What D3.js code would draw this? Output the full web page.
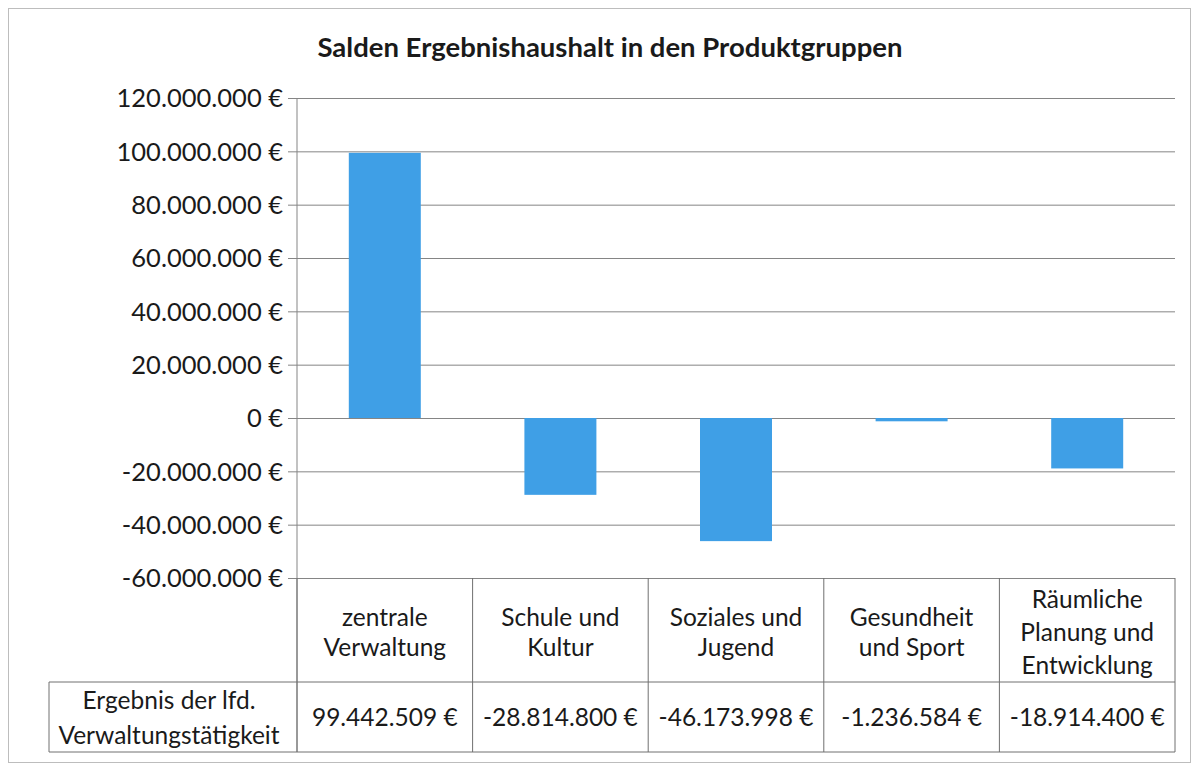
<!DOCTYPE html>
<meta charset="utf-8">
<head>
<title>Salden Ergebnishaushalt</title>
<script src="https://d3js.org/d3.v7.min.js"></script>
<style>
  body { margin: 0; background: #fff; }
  text { font-family: Lato, "Open Sans", sans-serif; fill: #1a1a1a; }
</style>
</head>
<body>
<div id="chart"></div>
<script>
    let categories = [["zentrale", "Verwaltung"], ["Schule und", "Kultur"], ["Soziales und", "Jugend"], ["Gesundheit", "und Sport"], ["Räumliche", "Planung und", "Entwicklung"]];
    let values = [99442509, -28814800, -46173998, -1236584, -18914400];
    let yTicks = [120000000, 100000000, 80000000, 60000000, 40000000, 20000000, 0, -20000000, -40000000, -60000000];
    let rowHeader = ["Ergebnis der lfd.", "Verwaltungstätigkeit"];
    let title = "Salden Ergebnishaushalt in den Produktgruppen";

    let w = 1198, h = 768;
    let plotL = 297, plotR = 1175, plotT = 98, plotB = 578;
    let catRow = 682, valRow = 752, headLeft = 49;
    let fs = 24.5;

    let de = d3.formatLocale({decimal: ",", thousands: ".", grouping: [3], currency: ["", ""], minus: "-"});
    let fmt = (d) => de.format(",.0f")(d) + " €";

    let svg = d3.select("#chart").append("svg")
                .attr("width", w)
                .attr("height", h)

    // outer chart frame
    svg.append("rect")
       .attr("x", 8.5).attr("y", 8.5)
       .attr("width", 1182).attr("height", 754)
       .style("fill", "none")
       .style("stroke", "#bdbdbd")

    svg.append("text")
       .attr("x", 610).attr("y", 57)
       .attr("text-anchor", "middle")
       .style("font-size", "27.5px")
       .style("font-weight", "bold")
       .text(title)

    let x = d3.scaleBand().domain(d3.range(values.length)).range([plotL, plotR]);
    let y = d3.scaleLinear().domain([-60000000, 120000000]).range([plotB, plotT]);

    // gridlines + ticks
    svg.append("g")
       .attr("transform", "translate(" + plotL + ",0)")
       .call(d3.axisLeft(y).tickValues(yTicks).tickFormat(fmt))
       .call((g) => g.select(".domain").remove())
       .call((g) => g.selectAll(".tick line").style("stroke", "#858585").attr("x1", -9).attr("x2", plotR - plotL))
       .call((g) => g.selectAll(".tick text").style("font-size", "25.5px").style("fill", "#1a1a1a").attr("x", -14).attr("dy", "0.35em"))

    // bars
    let bw = x.bandwidth() * 0.41;
    svg.selectAll("rect.bar")
       .data(values)
       .enter()
       .append("rect")
       .attr("class", "bar")
       .attr("x", (d, i) => x(i) + (x.bandwidth() - bw) / 2)
       .attr("y", (d) => y(Math.max(0, d)))
       .attr("width", bw)
       .attr("height", (d) => Math.max(1.5, Math.abs(y(d) - y(0))))
       .style("fill", "#3f9fe6")

    // vertical axis line
    svg.append("line")
       .attr("x1", plotL).attr("x2", plotL)
       .attr("y1", plotT).attr("y2", valRow)
       .style("stroke", "#858585")

    // data table lines
    let line = (x1, y1, x2, y2) => svg.append("line")
       .attr("x1", x1).attr("y1", y1).attr("x2", x2).attr("y2", y2)
       .style("stroke", "#707070")

    d3.range(values.length + 1).forEach((i) => {
        let xx = i < values.length ? x(i) : plotR;
        line(xx, plotB, xx, valRow);
    });
    line(headLeft, catRow, plotR, catRow);
    line(headLeft, valRow, plotR, valRow);
    line(headLeft, catRow, headLeft, valRow);

    // category labels
    let catG = svg.selectAll("g.cat")
       .data(categories)
       .enter()
       .append("g")
       .attr("class", "cat")

    catG.selectAll("text")
       .data((d, i) => d.map((t, j) => ({t: t, i: i, j: j, n: d.length})))
       .enter()
       .append("text")
       .attr("x", (d) => x(d.i) + x.bandwidth() / 2)
       .attr("y", (d) => (plotB + catRow) / 2 + 2 + (d.j - (d.n - 1) / 2) * (d.n > 2 ? 33 : 30))
       .attr("dy", "0.35em")
       .attr("text-anchor", "middle")
       .style("font-size", fs + "px")
       .text((d) => d.t)

    // values row
    svg.selectAll("text.val")
       .data(values)
       .enter()
       .append("text")
       .attr("class", "val")
       .attr("x", (d, i) => x(i) + x.bandwidth() / 2)
       .attr("y", (catRow + valRow) / 2)
       .attr("dy", "0.35em")
       .attr("text-anchor", "middle")
       .style("font-size", fs + "px")
       .text(fmt)

    svg.selectAll("text.head")
       .data(rowHeader)
       .enter()
       .append("text")
       .attr("class", "head")
       .attr("x", (headLeft + plotL) / 2 - 4)
       .attr("y", (d, i) => (catRow + valRow) / 2 + 1 + (i - 0.5) * 35)
       .attr("dy", "0.35em")
       .attr("text-anchor", "middle")
       .style("font-size", fs + "px")
       .text((d) => d)
</script>
</body>
